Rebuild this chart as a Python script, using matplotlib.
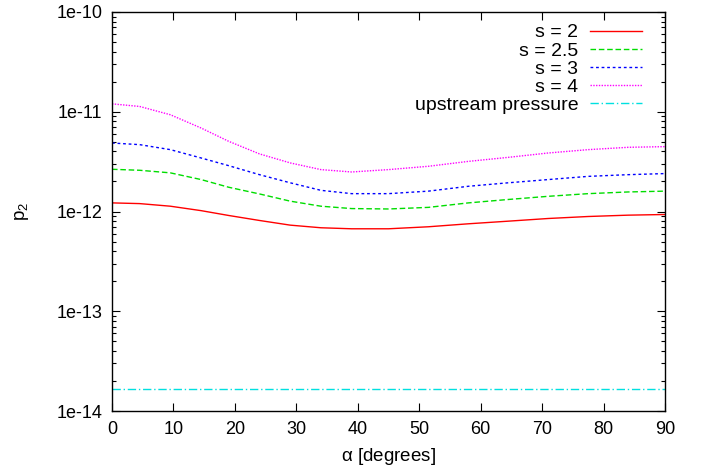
import numpy as np
import matplotlib
matplotlib.use("Agg")
import matplotlib.pyplot as plt
from matplotlib.ticker import LogLocator, NullFormatter, FixedLocator

plt.rcParams['font.family'] = ['Liberation Sans', 'DejaVu Sans']
plt.rcParams['mathtext.fontset'] = 'custom'
plt.rcParams['mathtext.rm'] = 'Liberation Sans'
plt.rcParams['mathtext.it'] = 'Liberation Sans'

# angle of incidence in degrees
alpha = [0, 4.5, 9.5, 14.5, 19, 24, 29, 34, 39, 45, 51.5, 58, 64.5, 71, 77.5, 84, 90]

# downstream pressure for each compression ratio s
p2_s2 = [1.22e-12, 1.20e-12, 1.13e-12, 1.02e-12, 9.12e-13, 8.13e-13, 7.30e-13,
         6.87e-13, 6.71e-13, 6.71e-13, 7.03e-13, 7.53e-13, 8.00e-13, 8.51e-13,
         8.91e-13, 9.19e-13, 9.33e-13]
p2_s25 = [2.65e-12, 2.59e-12, 2.44e-12, 2.09e-12, 1.75e-12, 1.50e-12, 1.27e-12,
          1.13e-12, 1.07e-12, 1.06e-12, 1.10e-12, 1.22e-12, 1.32e-12, 1.42e-12,
          1.51e-12, 1.57e-12, 1.60e-12]
p2_s3 = [4.86e-12, 4.68e-12, 4.17e-12, 3.44e-12, 2.88e-12, 2.34e-12, 1.94e-12,
         1.63e-12, 1.51e-12, 1.51e-12, 1.60e-12, 1.79e-12, 1.94e-12, 2.09e-12,
         2.25e-12, 2.34e-12, 2.40e-12]
p2_s4 = [1.20e-11, 1.13e-11, 9.33e-12, 6.87e-12, 5.05e-12, 3.78e-12, 3.07e-12,
         2.63e-12, 2.49e-12, 2.63e-12, 2.84e-12, 3.18e-12, 3.49e-12, 3.86e-12,
         4.17e-12, 4.40e-12, 4.47e-12]
upstream_p = 1.66e-14

labels = ["s = 2", "s = 2.5", "s = 3", "s = 4", "upstream pressure"]
x_ticks = [0, 10, 20, 30, 40, 50, 60, 70, 80, 90]
y_ticks = [1e-14, 1e-13, 1e-12, 1e-11, 1e-10]
y_ticklabels = ["1e-14", "1e-13", "1e-12", "1e-11", "1e-10"]

fig = plt.figure(figsize=(7.06, 4.75), dpi=100)
ax = fig.add_axes([112 / 706, 1 - 411 / 475, 553 / 706, 399 / 475])

lw = 1.0
ax.plot(alpha, p2_s2, color='#ff0000', lw=lw, ls='-', label=labels[0])
ax.plot(alpha, p2_s25, color='#00dd00', lw=lw, ls=(0, (4, 2)), label=labels[1])
ax.plot(alpha, p2_s3, color='#0000ff', lw=lw, ls=(0, (2, 2)), label=labels[2])
ax.plot(alpha, p2_s4, color='#ff00ff', lw=lw, ls=(0, (1, 1)), label=labels[3])
ax.plot([0, 90], [upstream_p, upstream_p], color='#00e0e0', lw=lw,
        ls=(0, (6, 2, 1, 2)), label=labels[4])

ax.set_yscale('log')
ax.set_xlim(0, 90)
ax.set_ylim(1e-14, 1e-10)
ax.xaxis.set_major_locator(FixedLocator(x_ticks))
ax.set_yticks(y_ticks)
ax.set_yticklabels(y_ticklabels)
ax.yaxis.set_minor_locator(LogLocator(base=10, subs=np.arange(2, 10)))
ax.yaxis.set_minor_formatter(NullFormatter())

ax.tick_params(which='both', direction='in', top=True, right=True,
               labelsize=13, colors='black')
ax.tick_params(which='major', length=6, width=0.8, pad=7)
ax.tick_params(which='minor', length=3, width=0.8)
for sp in ax.spines.values():
    sp.set_linewidth(1.0)

ax.set_xlabel(r"$\alpha$ [degrees]", fontsize=13.5, labelpad=6)
ax.set_ylabel(r"p$_2$", fontsize=13.5, labelpad=18)

leg = ax.legend(loc='upper right', frameon=False, fontsize=14,
                markerfirst=False, handlelength=2.7, handletextpad=0.6,
                labelspacing=0.03, borderaxespad=0.0, borderpad=0.2,
                bbox_to_anchor=(0.966, 0.98))
for col in leg._legend_handle_box.get_children():
    col.align = "right"

fig.savefig("out.png", dpi=100)
